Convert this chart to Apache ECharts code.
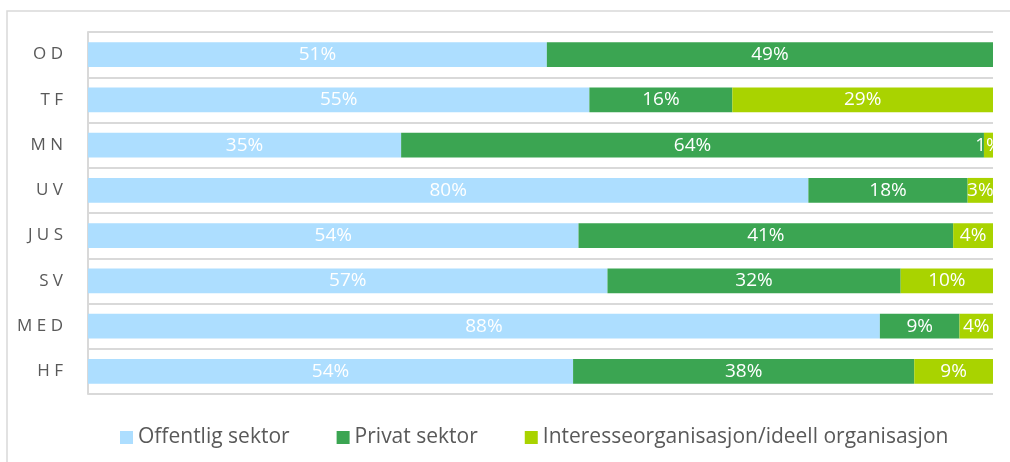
<!DOCTYPE html>
<html>
<head>
<meta charset="utf-8">
<script src="https://cdn.jsdelivr.net/npm/echarts@6/dist/echarts.min.js"></script>
<style>
  html, body { margin: 0; padding: 0; background: #fff; }
  #chart { width: 1010px; height: 462px; }
</style>
</head>
<body>
<div id="chart"></div>
<script>
// faculties, top to bottom
var categories = ['OD', 'TF', 'MN', 'UV', 'JUS', 'SV', 'MED', 'HF']
var seriesNames = ['Offentlig sektor', 'Privat sektor', 'Interesseorganisasjon/ideell organisasjon']
// shares in percent
var offentlig = [50.7, 55.4, 34.6, 79.6, 54.2, 57.4, 87.5, 53.6]
var privat = [49.3, 15.8, 64.4, 17.6, 41.4, 32.4, 8.8, 37.7]
var interesse = [0, 28.8, 1.0, 2.8, 4.4, 10.2, 3.7, 8.7]
var colors = ['#addeff', '#3ba552', '#a9d300']

var chart = echarts.init(document.getElementById('chart'))
var font = '"Open Sans", "Noto Sans", sans-serif'

function makeSeries (name, data, color) {
  return {
    name: name,
    type: 'bar',
    stack: 'total',
    barWidth: '55%',
    data: data,
    itemStyle: { color: color },
    label: {
      show: true,
      position: 'inside',
      color: '#fff',
      fontFamily: font,
      fontSize: 19,
      formatter: function (p) {
        return p.value > 0 ? Math.round(p.value) + '%' : ''
      }
    }
  }
}

var option = {
  animation: false,
  color: colors,
  graphic: [
    {
      type: 'rect',
      shape: { x: 7, y: 11, width: 1100, height: 500 },
      style: { fill: 'none', stroke: '#d9d9d9', lineWidth: 1.5 },
      silent: true
    }
  ],
  grid: { left: 88, right: 17, top: 32, bottom: 68 },
  xAxis: {
    type: 'value',
    min: 0,
    max: 100,
    show: false
  },
  yAxis: {
    type: 'category',
    data: categories,
    inverse: true,
    axisLine: { show: true, lineStyle: { color: '#d9d9d9', width: 2 } },
    axisTick: { show: false },
    splitLine: { show: true, lineStyle: { color: '#d9d9d9', width: 2 } },
    axisLabel: {
      color: '#595959',
      fontFamily: font,
      fontSize: 17,
      margin: 25,
      formatter: function (v) { return v.split('').join(' ') }
    }
  },
  legend: {
    bottom: 9,
    left: 115,
    itemWidth: 13,
    itemHeight: 13,
    itemGap: 47,
    icon: 'rect',
    textStyle: { color: '#595959', fontFamily: font, fontSize: 21 },
    data: seriesNames
  },
  series: [
    makeSeries(seriesNames[0], offentlig, colors[0]),
    makeSeries(seriesNames[1], privat, colors[1]),
    makeSeries(seriesNames[2], interesse, colors[2])
  ]
}

chart.setOption(option)
</script>
</body>
</html>
